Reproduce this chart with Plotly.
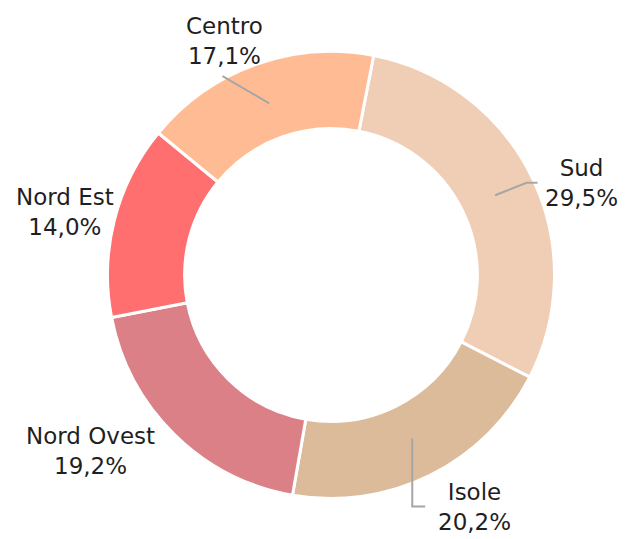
import math
import plotly.graph_objects as go

# ---- data ----
categories = ["Sud", "Isole", "Nord Ovest", "Nord Est", "Centro"]
values = [29.5, 20.2, 19.2, 14.0, 17.1]

# ---- style / layout ----
colors = ["#F0CEB6", "#DCBB9B", "#DB8086", "#FF6F6F", "#FFBC94"]
W, H = 627, 539
CX, CY = 331, 275            # pie centre (px)
R_OUT = 220.5                # visible outer radius (px)
R_DOMAIN = 223.5             # domain half-size (plotly trims a little)
HOLE = 0.655
START = 11.0                 # degrees clockwise from 12 o'clock
FONT = dict(family="DejaVu Sans", size=23, color="#1F1F1F")
LINE_COLOR = "#A6A6A6"

# label placement tweaks (angle nudge in deg, radius px)
label_dtheta = [5.7, -5.2, 9.3, -1.0, -4.7]
label_radius = [267, 273, 298, 273, 257]
# leader lines: None or (end offset from label centre, elbow mode)
leaders = [((-44, 0), "h"), ((-49, -1), "v"), None, None, ((-2, 35), None)]


def px_to_paper(x, y):
    return x / W, 1 - y / H


total = sum(values)
mids = []
acc = START
for v in values:
    span = v / total * 360
    mids.append(acc + span / 2)
    acc += span

fig = go.Figure()
fig.add_trace(go.Pie(
    labels=categories,
    values=values,
    sort=False,
    direction="clockwise",
    rotation=START,
    hole=HOLE,
    marker=dict(colors=colors, line=dict(color="white", width=3)),
    textinfo="none",
    hoverinfo="label+percent",
    showlegend=False,
    domain=dict(
        x=[(CX - R_DOMAIN) / W, (CX + R_DOMAIN) / W],
        y=[1 - (CY + R_DOMAIN) / H, 1 - (CY - R_DOMAIN) / H],
    ),
))

r_mid = R_OUT * (1 + HOLE) / 2
annotations = []
shapes = []
for i, (cat, v) in enumerate(zip(categories, values)):
    th = math.radians(mids[i] + label_dtheta[i])
    lx = CX + label_radius[i] * math.sin(th)
    ly = CY - label_radius[i] * math.cos(th)
    ax_, ay_ = px_to_paper(lx, ly)
    txt = f"{cat}<br>{v:.1f}%".replace(".", ",")
    annotations.append(dict(
        x=ax_, y=ay_, xref="paper", yref="paper", text=txt,
        showarrow=False, xanchor="center", yanchor="middle",
        font=FONT, align="center",
    ))
    if leaders[i] is not None:
        (ox, oy), mode = leaders[i]
        thm = math.radians(mids[i])
        sx = CX + r_mid * math.sin(thm)
        sy = CY - r_mid * math.cos(thm)
        ex, ey = lx + ox, ly + oy
        pts = [(sx, sy)]
        if mode == "h":
            pts.append((ex - 11, ey))
        elif mode == "v":
            pts.append((sx, ey))
        pts.append((ex, ey))
        pp = [px_to_paper(x, y) for x, y in pts]
        path = "M " + " L ".join(f"{x:.5f},{y:.5f}" for x, y in pp)
        shapes.append(dict(type="path", path=path, xref="paper", yref="paper",
                           line=dict(color=LINE_COLOR, width=2)))

fig.update_layout(
    width=W, height=H,
    margin=dict(l=0, r=0, t=0, b=0),
    paper_bgcolor="white",
    plot_bgcolor="white",
    annotations=annotations,
    shapes=shapes,
)

fig.write_html(
    "out.html",
    config={"displayModeBar": False},
    post_script="document.body.style.margin='0';document.body.style.overflow='hidden';",
)
